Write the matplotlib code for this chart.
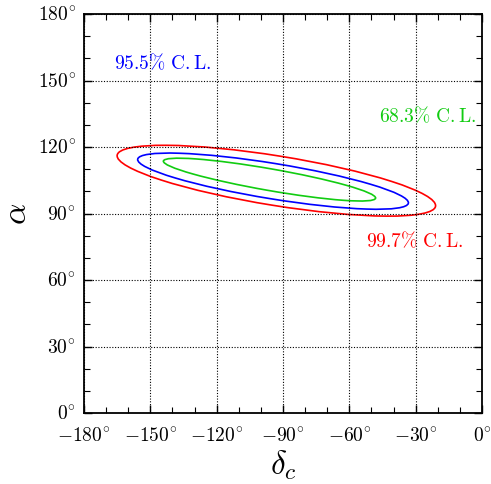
import matplotlib
matplotlib.use("Agg")
import matplotlib.pyplot as plt
from matplotlib.patches import Ellipse
from matplotlib.ticker import MultipleLocator

plt.rcParams['mathtext.fontset'] = 'cm'
plt.rcParams['font.family'] = ['DejaVu Serif']

# contour data: confidence level labels, centres (delta_c, alpha), semi-axes, tilt (deg)
levels = ['68.3', '95.5', '99.7']
colors = ['#11cc11', '#0000ff', '#ff0000']
center_x = [-96.1, -94.5, -93.0]
center_y = [105.3, 104.6, 104.8]
semi_major = [48.7, 62.0, 72.9]
semi_minor = [4.9, 8.0, 11.2]
tilt = [-9.9, -9.2, -9.1]

label_x = [-24.4, -144.3, -30.5]
label_y = [134.2, 157.9, 77.6]

x_ticks = [-180, -150, -120, -90, -60, -30, 0]
y_ticks = [0, 30, 60, 90, 120, 150, 180]

fig = plt.figure(figsize=(4.91, 4.84), dpi=100)
ax = fig.add_axes([0.171, 0.1467, 0.8107, 0.8243])

for cx, cy, a, b, t, c in zip(center_x, center_y, semi_major, semi_minor, tilt, colors):
    ax.add_patch(Ellipse((cx, cy), 2 * a, 2 * b, angle=t, fill=False,
                         edgecolor=c, lw=1.2))

for lv, lx, ly, c in zip(levels, label_x, label_y, colors):
    ax.text(lx, ly, r'$%s\%%\ \mathrm{C.L.}$' % lv, color=c, fontsize=14,
            ha='center', va='center')

ax.set_xlim(-180, 0)
ax.set_ylim(0, 180)
ax.set_xticks(x_ticks)
ax.set_yticks(y_ticks)
ax.set_xticklabels([r'$%d^{\circ}$' % v for v in x_ticks])
ax.set_yticklabels([r'$%d^{\circ}$' % v for v in y_ticks])
ax.xaxis.set_minor_locator(MultipleLocator(10))
ax.yaxis.set_minor_locator(MultipleLocator(10))
ax.tick_params(which='both', direction='in', top=True, right=True, labelsize=14)
ax.tick_params(which='major', length=6, width=1)
ax.tick_params(which='minor', length=4, width=0.8)
ax.tick_params(axis='x', which='major', pad=10)
ax.tick_params(axis='y', which='major', pad=6)
ax.grid(True, which='major', color='black', linestyle=(0, (1, 1.5)), lw=0.8)
for s in ax.spines.values():
    s.set_linewidth(1.3)

ax.set_xlabel(r'$\delta_c$', fontsize=24, labelpad=2)
ax.set_ylabel(r'$\alpha$', fontsize=24, labelpad=3)

fig.savefig('out.png', dpi=100)
